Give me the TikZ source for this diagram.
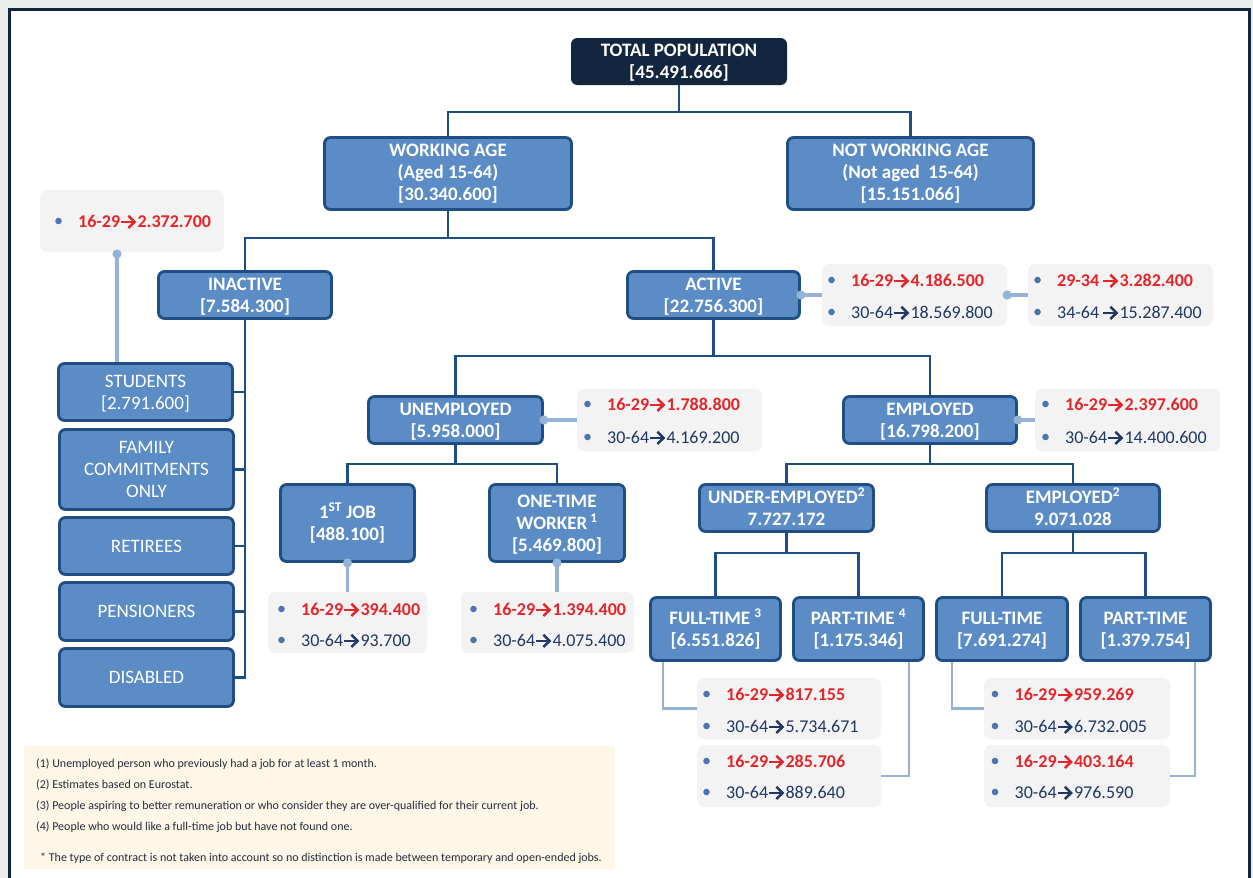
\documentclass[tikz,border=0pt]{standalone}
\usepackage{fontspec}
\setmainfont{Carlito}
\usetikzlibrary{calc}

\definecolor{framenavy}{HTML}{13263F}
\definecolor{pagegray}{HTML}{ECEEED}
\definecolor{boxfill}{HTML}{5B8CC6}
\definecolor{boxline}{HTML}{1F4E85}
\definecolor{linkblue}{HTML}{95B3D7}
\definecolor{infofill}{HTML}{F3F3F3}
\definecolor{agered}{HTML}{E3262A}
\definecolor{agenavy}{HTML}{203864}
\definecolor{bulletblue}{HTML}{4E74B2}
\definecolor{notefill}{HTML}{FEF7E8}
\definecolor{notetext}{HTML}{262C3A}

\newcommand\boxfont{\fontsize{19}{22}\selectfont}
\newcommand\rowfont{\fontsize{18}{21.5}\selectfont}
\newcommand\notefont{\fontsize{12}{14}\selectfont}

% one "age -> count" line of an info box: name, text x, centre y, kind, age, count
\newcommand\agerow[6]{%
  \fill[bullet] (#2-19.5,#3) circle (3.3);
  \node[#4, anchor=base west] (#1a) at (#2,#3+6.8) {#5};
  \draw[#4 arrow] ($(#1a.base east)+(1,-5.9)$) -- ++(12.5,0);
  \draw[#4 arrow] ($(#1a.base east)+(8,-12)$) -- ++(6.2,6.1) -- ++(-6.2,6.1);
  \node[#4, anchor=base west] (#1v) at ($(#1a.base east)+(17,0)$) {#6};
}

\tikzset{
  tree/.style={draw=boxline, line width=2.6pt, line join=miter},
  link/.style={draw=linkblue, line width=3.2pt},
  thinlink/.style={draw=linkblue, line width=2.6pt},
  linkdot/.style={fill=linkblue},
  bullet/.style={fill=bulletblue},
  boxbase/.style={draw=boxline, fill=boxfill, line width=2.8pt, rounded corners=6pt,
    text=white, align=center, inner sep=0pt, text depth=0pt},
  % text heights that put the cap-middle of the text block on the box centre
  oneline/.style={text height=12.2pt},
  twoline/.style={text height=34.2pt},
  threeline/.style={text height=56.2pt},
  catbox/.style={boxbase, font=\boxfont\bfseries},
  subbox/.style={boxbase, font=\boxfont},
  rootbox/.style={catbox, fill=framenavy, draw=framenavy, line width=1pt},
  infobox/.style={fill=infofill, rounded corners=7pt, inner sep=0pt},
  redrow/.style={text=agered, font=\rowfont\bfseries, inner sep=0pt},
  navyrow/.style={text=agenavy, font=\rowfont, inner sep=0pt},
  redrow arrow/.style={draw=agered, line width=2.5pt, line join=miter},
  navyrow arrow/.style={draw=agenavy, line width=2.5pt, line join=miter},
  note/.style={text=notetext, font=\notefont, inner sep=0pt, anchor=base west},
}

\begin{document}
\begin{tikzpicture}[x=1pt, y=-1pt]
% page and frame
\fill[pagegray] (0,0) rectangle (1253,878);
\useasboundingbox (0,0) rectangle (1253,878);
\begin{scope}
  \clip (0,0) rectangle (1253,878);
  \draw[framenavy, line width=2.8pt, fill=white] (9.8,9.6) rectangle (1249.6,900);
\end{scope}

% footnotes
\node[fill=notefill, minimum width=591, minimum height=123, inner sep=0pt] (notes) at (319.5,807.5) {};
\node[note] (n1) at (36,767) {(1) Unemployed person who previously had a job for at least 1 month.};
\node[note] (n2) at (36,788) {(2) Estimates based on Eurostat.};
\node[note] (n3) at (36,809) {(3) People aspiring to better remuneration or who consider they are over-qualified for their current job.};
\node[note] (n4) at (36,830) {(4) People who would like a full-time job but have not found one.};
\node[note] (n5) at (40,861) {* The type of contract is not taken into account so no distinction is made between temporary and open-ended jobs.};

% boxes
\node[rootbox, twoline, minimum width=215, minimum height=46] (total) at (679,61.5) {TOTAL POPULATION\\{[45.491.666]}};
\node[catbox, threeline, text height=54.2pt, minimum width=247, minimum height=72] (wa) at (448,173.5) {WORKING AGE\\(Aged 15-64)\\{[30.340.600]}};
\node[catbox, threeline, text height=54.2pt, minimum width=246, minimum height=72] (nwa) at (910.5,173.5) {NOT WORKING AGE\\(Not aged~ 15-64)\\{[15.151.066]}};
\node[catbox, twoline, minimum width=173, minimum height=47] (inactive) at (245,295) {INACTIVE\\{[7.584.300]}};
\node[catbox, twoline, minimum width=172, minimum height=47] (active) at (713.5,295) {ACTIVE\\{[22.756.300]}};

\node[subbox, twoline, minimum width=174, minimum height=57] (students) at (145.5,392) {STUDENTS\\{[2.791.600]}};
\node[subbox, threeline, minimum width=174, minimum height=80] (family) at (146.5,469.5) {FAMILY\\COMMITMENTS\\ONLY};
\node[subbox, oneline, minimum width=174, minimum height=57] (retirees) at (146.5,546) {RETIREES};
\node[subbox, oneline, minimum width=174, minimum height=58] (pensioners) at (146.5,611.5) {PENSIONERS};
\node[subbox, oneline, minimum width=174, minimum height=58] (disabled) at (146.5,677.5) {DISABLED};

\node[catbox, twoline, minimum width=174, minimum height=47] (unemployed) at (455.5,420) {UNEMPLOYED\\{[5.958.000]}};
\node[catbox, twoline, minimum width=173, minimum height=47] (employed) at (930,420) {EMPLOYED\\{[16.798.200]}};

\node[catbox, twoline, minimum width=134, minimum height=77] (firstjob) at (347.5,523) {1\textsuperscript{ST} JOB\\{[488.100]}};
\node[catbox, threeline, minimum width=135, minimum height=77] (onetime) at (557,523) {ONE-TIME\\WORKER\,\textsuperscript{1}\\{[5.469.800]}};
\node[catbox, twoline, minimum width=174, minimum height=47] (under) at (786.5,508) {UNDER-EMPLOYED\textsuperscript{2}\\7.727.172};
\node[catbox, twoline, minimum width=173, minimum height=47] (emp2) at (1073,508) {EMPLOYED\textsuperscript{2}\\9.071.028};

\node[catbox, twoline, minimum width=130, minimum height=63] (ft3) at (715.5,629) {FULL-TIME \textsuperscript{3}\\{[6.551.826]}};
\node[catbox, twoline, minimum width=130, minimum height=63] (pt4) at (858.5,629) {PART-TIME \textsuperscript{4}\\{[1.175.346]}};
\node[catbox, twoline, minimum width=131, minimum height=63] (ft) at (1002,629) {FULL-TIME\\{[7.691.274]}};
\node[catbox, twoline, minimum width=130, minimum height=63] (pt) at (1145.5,629) {PART-TIME\\{[1.379.754]}};

% tree connectors
\coordinate (y0) at (0,112);
\coordinate (y1) at (0,238);
\coordinate (y2) at (0,356);
\coordinate (y3) at (0,464);
\coordinate (y4) at (0,553);
\draw[tree] (total.south) -- (total.south |- y0);
\draw[tree] (wa.north) |- (y0 -| total.south) -| (nwa.north);
\draw[tree] (wa.south) -- (wa.south |- y1);
\draw[tree] (inactive.north) |- (y1 -| wa.south) -| (active.north);
\draw[tree] (active.south) -- (active.south |- y2);
\draw[tree] (unemployed.north) |- (y2 -| active.south) -| (employed.north);
\draw[tree] (unemployed.south) -- (unemployed.south |- y3);
\draw[tree] (firstjob.north) |- (y3 -| unemployed.south) -| (onetime.north);
\draw[tree] (employed.south) -- (employed.south |- y3);
\draw[tree] (under.north) |- (y3 -| employed.south) -| (emp2.north);
\draw[tree] (under.south) -- (under.south |- y4);
\draw[tree] (ft3.north) |- (y4 -| under.south) -| (pt4.north);
\draw[tree] (emp2.south) -- (emp2.south |- y4);
\draw[tree] (ft.north) |- (y4 -| emp2.south) -| (pt.north);
% inactive trunk
\draw[tree] (inactive.south) -- (inactive.south |- disabled.east) -- (disabled.east);
\draw[tree] (students.east) -- (students.east -| inactive.south);
\draw[tree] (family.east) -- (family.east -| inactive.south);
\draw[tree] (retirees.east) -- (retirees.east -| inactive.south);
\draw[tree] (pensioners.east) -- (pensioners.east -| inactive.south);

% info boxes
\node[infobox, minimum width=184, minimum height=62] (ibin) at (132,221) {};
\node[infobox, minimum width=185, minimum height=62] (ibact1) at (914.5,295) {};
\node[infobox, minimum width=185, minimum height=62] (ibact2) at (1120.5,295) {};
\node[infobox, minimum width=185, minimum height=62] (ibunemp) at (669.5,420) {};
\node[infobox, minimum width=185, minimum height=62] (ibemp) at (1127.5,420) {};
\node[infobox, minimum width=159, minimum height=61] (ibjob) at (347.5,622.5) {};
\node[infobox, minimum width=173, minimum height=61] (ibone) at (547.5,622.5) {};
\node[infobox, minimum width=184, minimum height=61] (ibA) at (789,708.5) {};
\node[infobox, minimum width=184, minimum height=62] (ibB) at (789,776) {};
\node[infobox, minimum width=186, minimum height=61] (ibC) at (1077,708.5) {};
\node[infobox, minimum width=186, minimum height=62] (ibD) at (1077,776) {};

% light links
\coordinate (indot) at (117,254);
\draw[link] (indot) -- (indot |- students.north);
\draw[link] (active.east) -- (ibact1.west);
\draw[link] (ibact1.east) -- (ibact2.west);
\draw[link] (unemployed.east) -- (ibunemp.west);
\draw[link] (employed.east) -- (ibemp.west);
\draw[link] (firstjob.south) -- (firstjob.south |- ibjob.north);
\draw[link] (onetime.south) -- (onetime.south |- ibone.north);
\draw[thinlink] ($(ft3.south west)+(14,0)$) |- (ibA.west);
\draw[thinlink] ($(pt4.south east)+(-16,0)$) |- (ibB.east);
\draw[thinlink] ($(ft.south west)+(17,0)$) |- (ibC.west);
\draw[thinlink] ($(pt.south east)+(-17,0)$) |- (ibD.east);
\foreach \p in {indot, active.east, ibact1.east, unemployed.east, employed.east, firstjob.south, onetime.south}
  \fill[linkdot] (\p) circle (4.6);

% age rows
\agerow{in}{78}{221}{redrow}{16-29}{2.372.700}
\agerow{acta}{851}{280}{redrow}{16-29}{4.186.500}
\agerow{actb}{851}{312}{navyrow}{30-64}{18.569.800}
\agerow{actc}{1057}{280}{redrow}{29-34\,}{3.282.400}
\agerow{actd}{1057}{312}{navyrow}{34-64\,}{15.287.400}
\agerow{una}{607}{404}{redrow}{16-29}{1.788.800}
\agerow{unb}{607}{437}{navyrow}{30-64}{4.169.200}
\agerow{ema}{1065}{404}{redrow}{16-29}{2.397.600}
\agerow{emb}{1065}{437}{navyrow}{30-64}{14.400.600}
\agerow{joa}{301}{609}{redrow}{16-29}{394.400}
\agerow{job}{301}{640}{navyrow}{30-64}{93.700}
\agerow{ona}{493}{609}{redrow}{16-29}{1.394.400}
\agerow{onb}{493}{640}{navyrow}{30-64}{4.075.400}
\agerow{aa}{726}{694}{redrow}{16-29}{817.155}
\agerow{ab}{726}{726}{navyrow}{30-64}{5.734.671}
\agerow{ba}{726}{761}{redrow}{16-29}{285.706}
\agerow{bb}{726}{792}{navyrow}{30-64}{889.640}
\agerow{ca}{1014.5}{694}{redrow}{16-29}{959.269}
\agerow{cb}{1014.5}{726}{navyrow}{30-64}{6.732.005}
\agerow{da}{1014.5}{761}{redrow}{16-29}{403.164}
\agerow{db}{1014.5}{792}{navyrow}{30-64}{976.590}
\end{tikzpicture}
\end{document}
